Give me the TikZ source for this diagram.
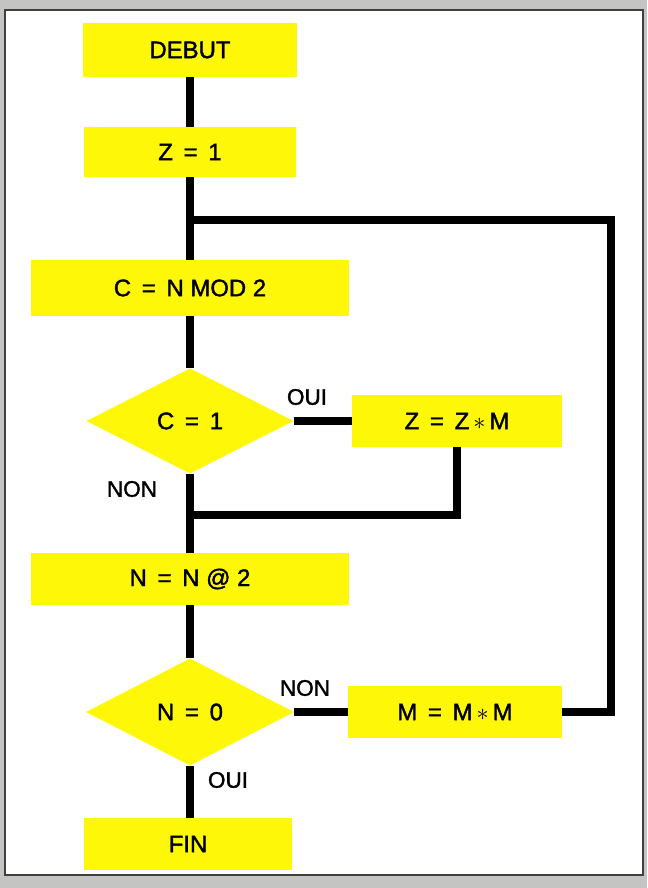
\documentclass[tikz,border=0pt]{standalone}
\usepackage{fontspec}
\setmainfont{Liberation Sans}[FakeBold=1.6]
\usepackage{tikz}
\usetikzlibrary{shapes.geometric}
\definecolor{flowyellow}{RGB}{255,247,8}
\definecolor{pagegray}{RGB}{196,196,194}
\newcommand{\eqs}{\hspace{.45em}=\hspace{.45em}}

\tikzset{
  stepbox/.style={rectangle,fill=flowyellow,inner sep=0pt,
    font=\fontsize{17}{20}\selectfont},
  testbox/.style={diamond,fill=flowyellow,inner sep=0pt,
    font=\fontsize{17}{20}\selectfont},
  lbl/.style={font=\fontsize{16}{19}\selectfont,inner sep=0pt},
  flow/.style={line width=5pt,line join=miter}
}

\begin{document}
\begin{tikzpicture}[x=0.025cm,y=-0.025cm]
  % page and frame
  \fill[pagegray] (0,0) rectangle (647,888);
  \fill[white] (5,10) rectangle (643,875);
  \draw[black!75,line width=1pt] (5,10) rectangle (643,875);
  \useasboundingbox (0,0) rectangle (647,888);

  % boxes
  \node[stepbox,minimum width=5.33cm,minimum height=1.35cm] (debut) at (190,50) {DEBUT};
  \node[stepbox,minimum width=5.3cm,minimum height=1.25cm] (z1) at (190,152) {Z\eqs 1};
  \node[stepbox,minimum width=7.95cm,minimum height=1.4cm] (cmod) at (190,288) {C\eqs N MOD 2};
  \node[testbox,minimum width=5.18cm,minimum height=2.63cm] (c1) at (190,421) {C\eqs 1};
  \node[stepbox,minimum width=5.25cm,minimum height=1.3cm] (zzm) at (457,421) {Z\eqs Z\,$\ast$\,M};
  \node[stepbox,minimum width=7.93cm,minimum height=1.28cm] (nn2) at (190,579) {N\eqs N @ 2};
  \node[testbox,minimum width=5.2cm,minimum height=2.68cm] (n0) at (190,712) {N\eqs 0};
  \node[stepbox,minimum width=5.33cm,minimum height=1.28cm] (mmm) at (455,712) {M\eqs M\,$\ast$\,M};
  \node[stepbox,minimum width=5.2cm,minimum height=1.3cm] (fin) at (188,844) {FIN};

  % labels
  \node[lbl] (ouic) at (307,397) {OUI};
  \node[lbl] (nonc) at (132,489) {NON};
  \node[lbl] (nonn) at (305,688) {NON};
  \node[lbl] (ouin) at (228,780) {OUI};

  \coordinate (loopin) at (190,220);
  \coordinate (loopturn) at (611,220);
  \coordinate (merge) at (190,515);

  % connectors
  \draw[flow] (debut) -- (z1);
  \draw[flow] (z1) -- (cmod);
  \draw[flow] (cmod) -- (c1);
  \draw[flow] (c1) -- (nn2);
  \draw[flow] (nn2) -- (n0);
  \draw[flow] (n0) -- (n0 |- fin.north);
  \draw[flow] (c1) -- (zzm);
  \draw[flow] (zzm.south) |- (merge);
  \draw[flow] (n0) -- (mmm);
  \draw[flow] (mmm.east) -| (loopturn) -- (loopin);
\end{tikzpicture}
\end{document}
